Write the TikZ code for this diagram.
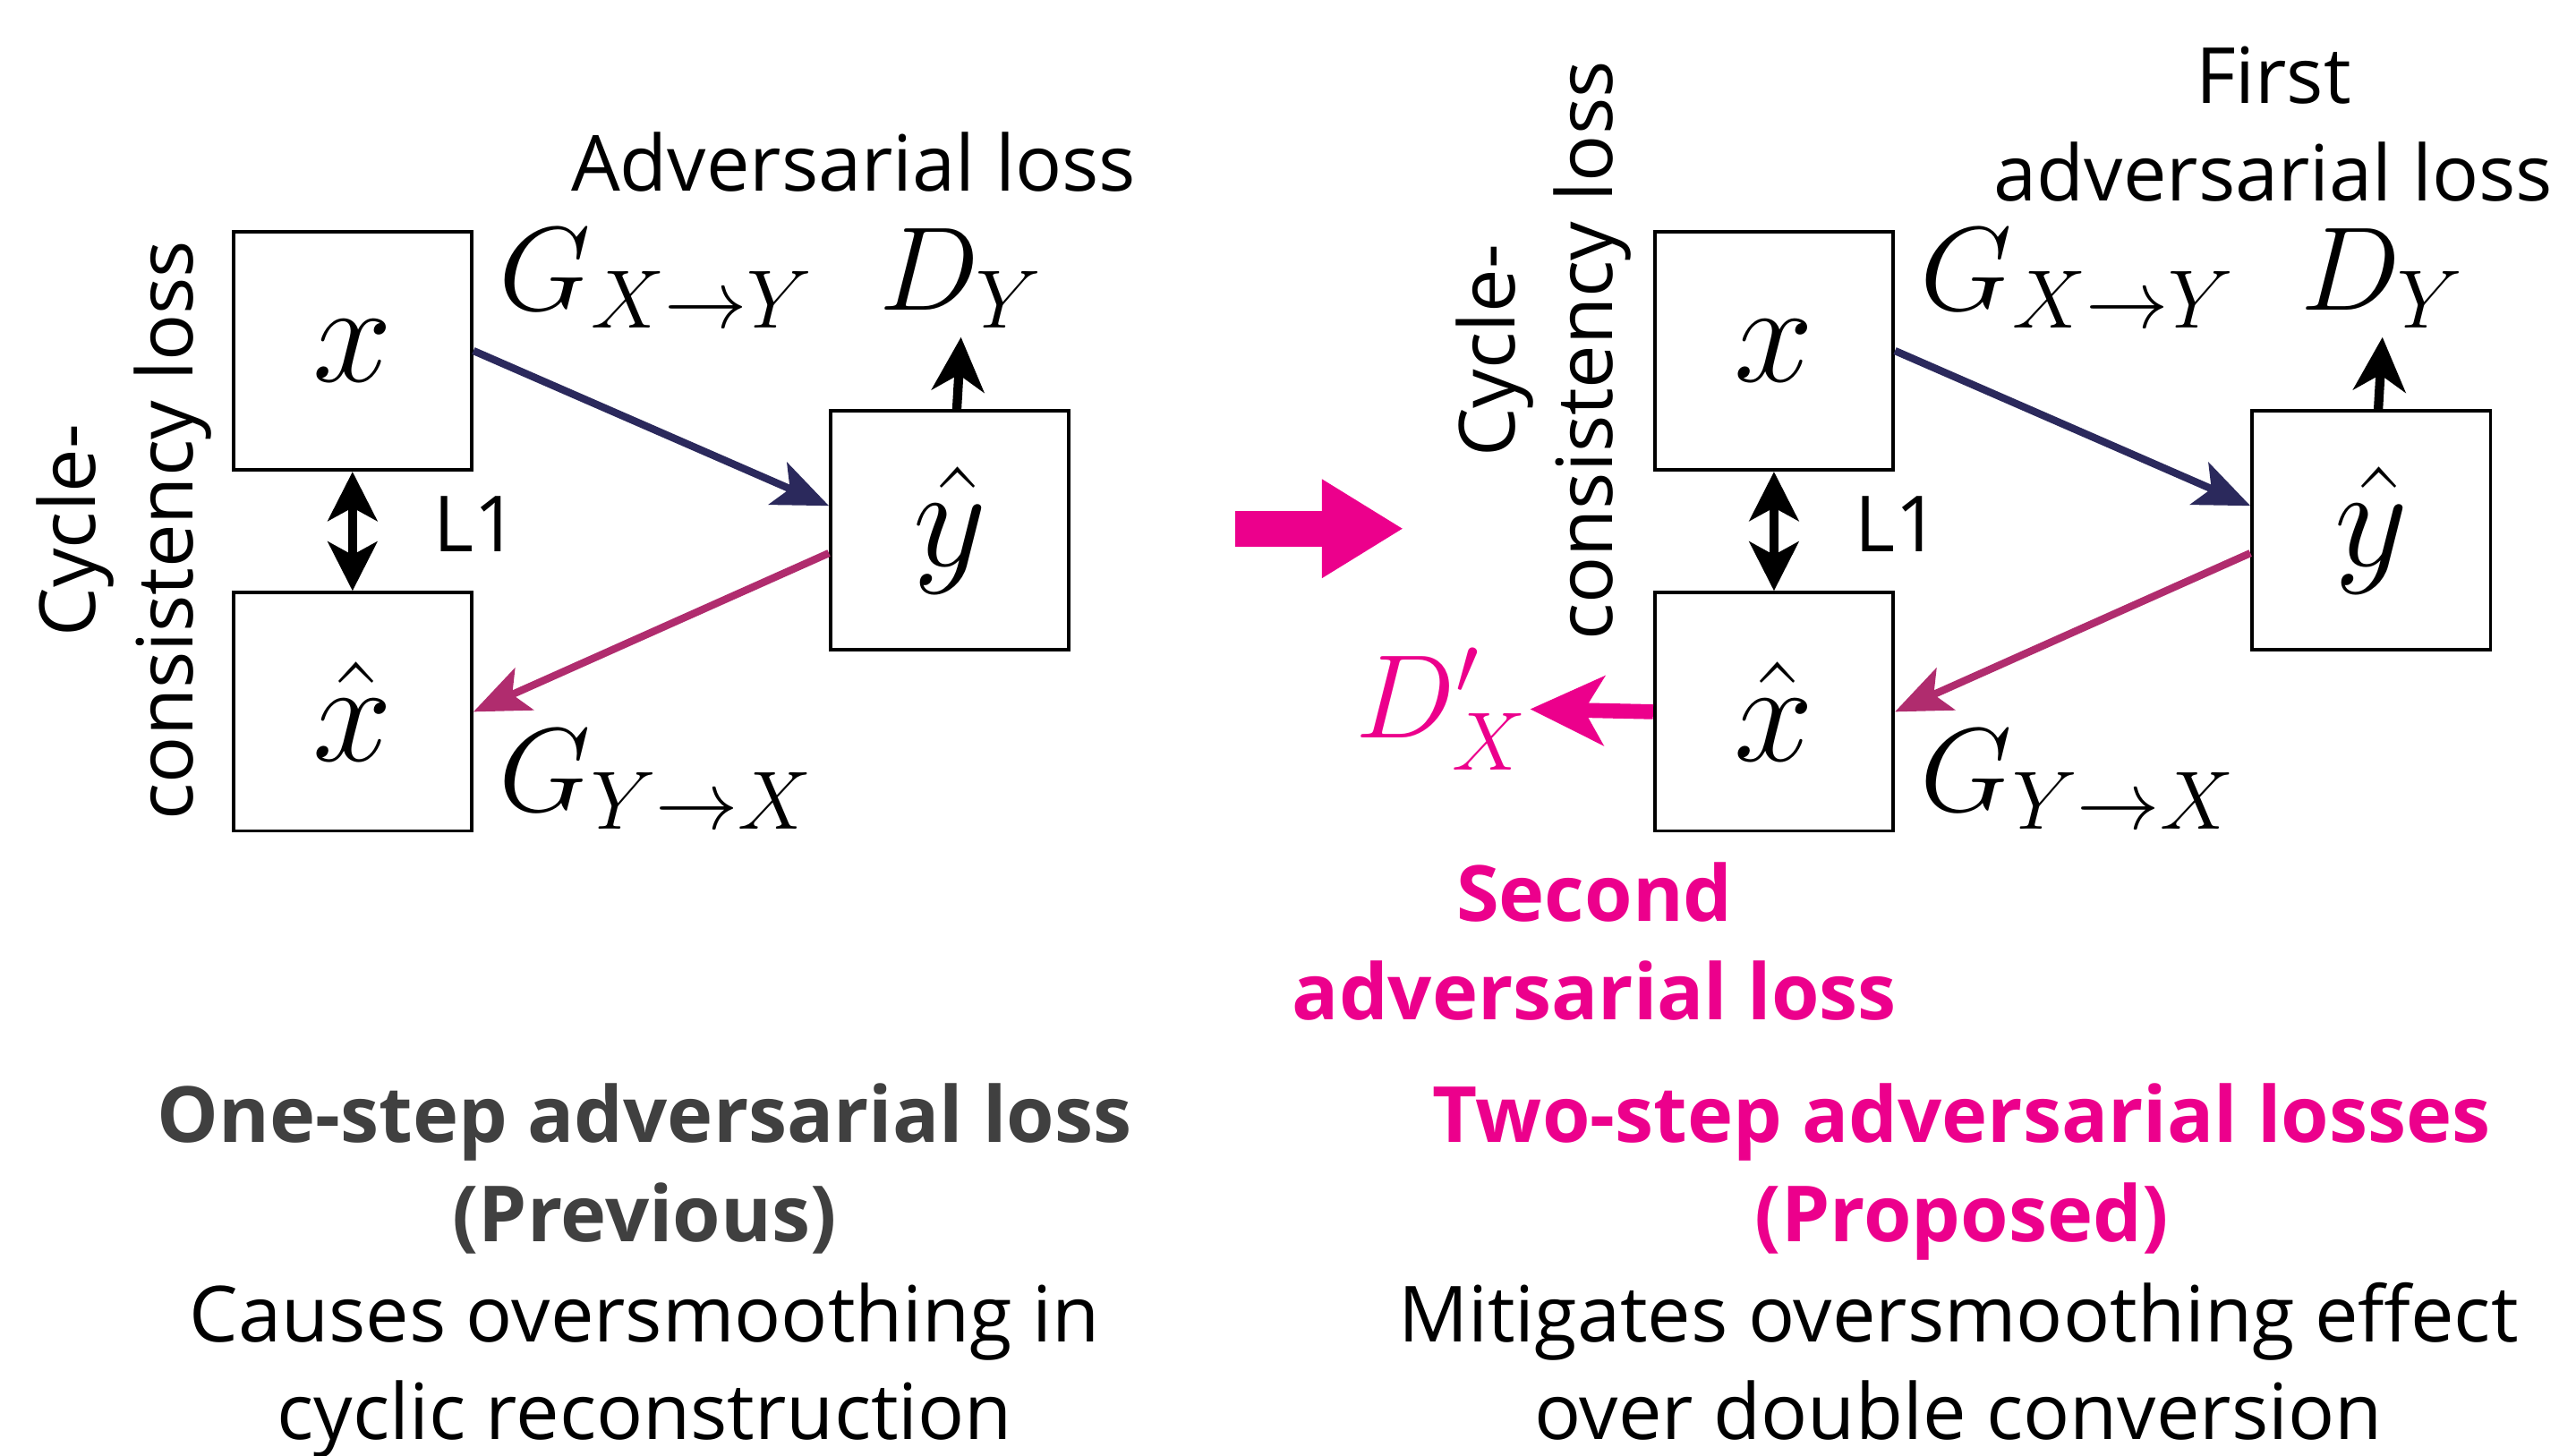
\documentclass[tikz,border=0pt]{standalone}
\usepackage{amsmath}
\usepackage[no-math]{fontspec}
\setmainfont{Open Sans}
\usetikzlibrary{positioning, arrows.meta}
\definecolor{hotpink}{RGB}{236,0,140}
\definecolor{navyarrow}{RGB}{43,41,92}
\definecolor{plumarrow}{RGB}{176,44,110}
\definecolor{darktext}{RGB}{64,64,64}

\begin{document}
\begin{tikzpicture}[x=0.01cm, y=-0.01cm,
    box/.style={rectangle, draw=black, line width=0.6pt, minimum size=1.46cm,
      inner sep=0pt, font=\fontsize{24}{28}\selectfont},
    mathlab/.style={font=\fontsize{20.5}{24}\selectfont, inner sep=0pt},
    lab/.style={font=\fontsize{13.5}{17}\selectfont, align=center, inner sep=0pt},
    head/.style={font=\fontsize{13.5}{17.3}\selectfont\bfseries, align=center, inner sep=0pt},
    gen/.style={-{Stealth[length=0.34cm, width=0.28cm, inset=0.08cm]}, line width=1.3pt},
    pair/.style={{Stealth[length=0.3cm, width=0.3cm, inset=0.08cm]}-{Stealth[length=0.3cm, width=0.3cm, inset=0.08cm]},
      line width=1.6pt},
    disc/.style={-{Stealth[length=0.33cm, width=0.32cm, inset=0.1cm]}, line width=1.6pt}
  ]
    \useasboundingbox (0,0) rectangle (1568,892);

    % previous: one-step
    \node[box] (x) at (216,215) {$x$};
    \node[box, below=0.73cm of x] (xhat) {$\hat{x}$};
    \node[box] (yhat) at (582,325) {$\hat{y}$};

    \node[mathlab, anchor=base west] (gxy) at (305,190) {$G_{X\to Y}$};
    \node[mathlab, anchor=base west] (gyx) at (305,497) {$G_{Y\to X}$};
    \node[mathlab, anchor=base west] (dy) at (538,190) {$D_Y$};
    \node[lab, anchor=base west] (lone) at (265,338) {L1};
    \node[lab, anchor=base] (adv) at (523,117) {Adversarial loss};
    \node[lab, rotate=90] (cyc) at (76,325) {Cycle-\\consistency loss};

    \draw[gen, navyarrow] (x.east) -- ([yshift=0.15cm]yhat.west);
    \draw[gen, plumarrow] ([yshift=-0.14cm]yhat.west) -- (xhat.east);
    \draw[pair] (x) -- (xhat);
    \draw[disc, shorten >=0.05cm] (yhat) -- (dy.south);

    % big arrow
    \coordinate (bigfrom) at (757,324);
    \coordinate (bigto) at (860,324);
    \draw[hotpink, line width=0.22cm, -{Triangle[length=0.5cm, width=0.57cm]}] (bigfrom) -- (bigto);

    % proposed: two-step
    \node[box] (x2) at (1087,215) {$x$};
    \node[box, below=0.73cm of x2] (xhat2) {$\hat{x}$};
    \node[box] (yhat2) at (1453,325) {$\hat{y}$};

    \node[mathlab, anchor=base west] (gxy2) at (1176,190) {$G_{X\to Y}$};
    \node[mathlab, anchor=base west] (gyx2) at (1176,497) {$G_{Y\to X}$};
    \node[mathlab, anchor=base west] (dy2) at (1409,190) {$D_Y$};
    \node[mathlab, anchor=base west, text=hotpink] (dx2) at (830,452) {$D'_X$};
    \node[lab, anchor=base west] (lone2) at (1136,338) {L1};
    \node[lab] (adv2) at (1393,76) {First\\adversarial loss};
    \node[lab, rotate=90] (cyc2) at (946,215) {Cycle-\\consistency loss};
    \node[head, text=hotpink] (adv3) at (977,577) {Second\\adversarial loss};

    \draw[gen, navyarrow] (x2.east) -- ([yshift=0.15cm]yhat2.west);
    \draw[gen, plumarrow] ([yshift=-0.14cm]yhat2.west) -- (xhat2.east);
    \draw[pair] (x2) -- (xhat2);
    \draw[disc, shorten >=0.05cm] (yhat2) -- (dy2.south);
    \draw[hotpink, line width=2.6pt, -{Stealth[length=0.45cm, width=0.42cm, inset=0.12cm]}]
      (xhat2.west) -- (dx2.east);

    % captions
    \node[head, text=darktext, anchor=base] (prevtitle) at (395,761) {One-step adversarial loss\\(Previous)};
    \node[lab, anchor=base] (prevtext) at (395,882) {Causes oversmoothing in\\cyclic reconstruction};
    \node[head, text=hotpink, anchor=base] (proptitle) at (1202,761) {Two-step adversarial losses\\(Proposed)};
    \node[lab, anchor=base] (proptext) at (1200,882) {Mitigates oversmoothing effect\\over double conversion};
  \end{tikzpicture}
\end{document}
